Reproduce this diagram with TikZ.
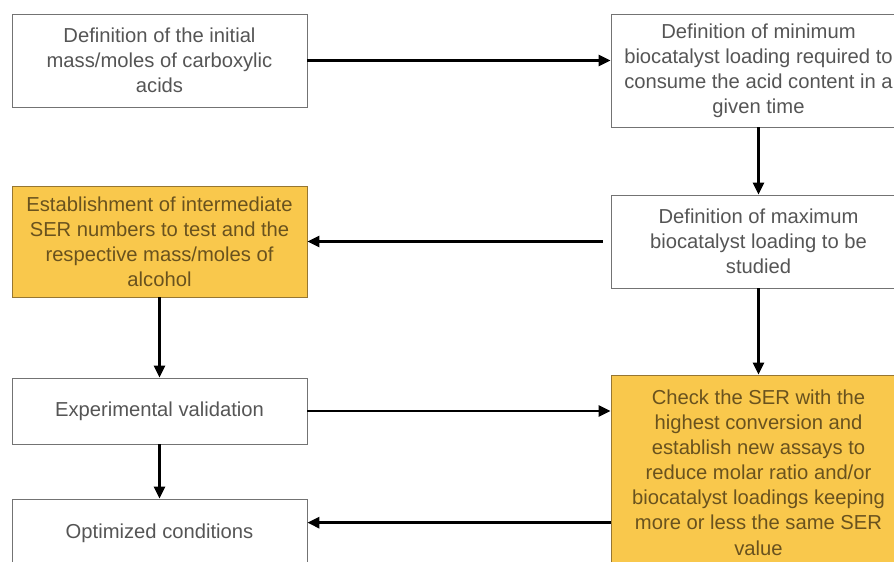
\documentclass[tikz,border=0pt]{standalone}
\usepackage{fontspec}
\setmainfont{Liberation Sans}
\usepackage{tikz}
\usetikzlibrary{arrows.meta}
\usepackage{xcolor}

\definecolor{boxtext}{RGB}{85,85,85}
\definecolor{hltext}{RGB}{105,82,30}
\definecolor{hlfill}{RGB}{249,200,76}
\definecolor{hlborder}{RGB}{150,118,50}

\begin{document}
\begin{tikzpicture}[
        x=0.02cm, y=-0.02cm,
        block/.style={
            rectangle,
            draw=black!55,
            line width=0.5pt,
            fill=white,
            align=center,
            minimum width=5.9cm,
            text=boxtext,
            font=\fontsize{11.5}{14.3}\selectfont
        },
        hlblock/.style={
            block,
            draw=hlborder,
            fill=hlfill,
            text=hltext
        },
        arrow/.style={
            -{Triangle[length=2.4mm,width=2.2mm]},
            line width=1.6pt
        }
    ]

        \clip (0,0) rectangle (894,562);
        \useasboundingbox (0,0) rectangle (894,562);

        % Left column
        \node[block, minimum height=1.86cm] (initial) at (159.5,60.5)
            {Definition of the initial\\mass/moles of carboxylic\\acids};
        \node[hlblock, minimum height=2.22cm] (intermediate) at (159.5,241.5)
            {Establishment of intermediate\\SER numbers to test and the\\respective mass/moles of\\alcohol};
        \node[block, minimum height=1.32cm] (validation) at (159.5,411)
            {Experimental validation};
        \node[block, minimum height=1.36cm] (optimized) at (159.5,533)
            {Optimized conditions};

        % Right column
        \node[block, minimum height=2.26cm] (minload) at (758.5,70.5)
            {Definition of minimum\\biocatalyst loading required to\\consume the acid content in a\\given time};
        \node[block, minimum height=1.86cm] (maxload) at (758.5,241.5)
            {Definition of maximum\\biocatalyst loading to be\\studied};
        \node[hlblock, minimum height=3.9cm] (check) at (758.5,472.5)
            {Check the SER with the\\highest conversion and\\establish new assays to\\reduce molar ratio and/or\\biocatalyst loadings keeping\\more or less the same SER\\value};

        % Loading range
        \draw[arrow] (initial.east) -- (initial.east -| minload.west);
        \draw[arrow] (minload.south) -- (maxload.north);
        \draw[arrow, shorten <=0.16cm] (maxload.west) -- (intermediate.east);

        % Validation loop
        \draw[arrow] (intermediate.south) -- (validation.north);
        \draw[arrow] (maxload.south) -- (check.north);
        \draw[arrow] (validation.east) -- (validation.east -| check.west);

        % Final conditions
        \draw[arrow] (validation.south) -- (optimized.north);
        \draw[arrow] (optimized.4 -| check.west) -- (optimized.4);

    \end{tikzpicture}
\end{document}
